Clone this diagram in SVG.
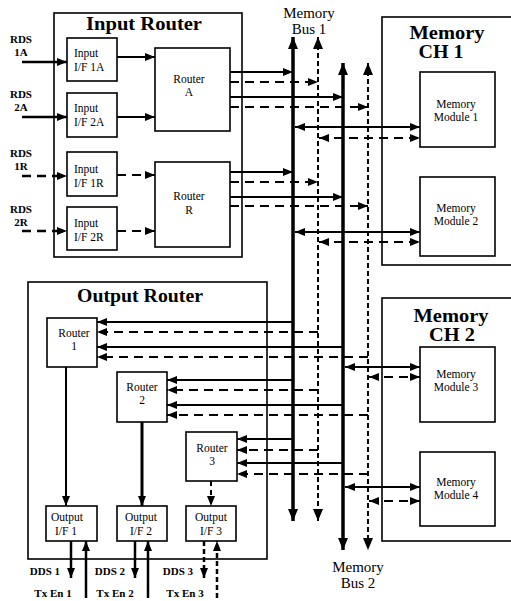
<svg xmlns="http://www.w3.org/2000/svg" width="511" height="601" viewBox="0 0 511 601">
<defs>
<style>
.box{fill:#fff;stroke:#000;stroke-width:1.6}
.t{font-family:"Liberation Serif","Times New Roman",serif;fill:#000;text-anchor:middle}
.l{text-anchor:start}
.s{font-size:11.5px}
.lb{font-size:11px;font-weight:bold}
.ttl{font-size:19px;font-weight:bold}
.bl{font-size:15px}
.c{fill:none;stroke:#000;stroke-width:2}
.d{stroke-dasharray:9 6}
.bus{fill:none;stroke:#000;stroke-width:3.5}
.busd{fill:none;stroke:#000;stroke-width:2;stroke-dasharray:5 3}
</style>
<marker id="ah" viewBox="0 0 10 8" refX="10" refY="4" markerWidth="10" markerHeight="8" markerUnits="userSpaceOnUse" orient="auto-start-reverse"><path d="M0,0 L10,4 L0,8 z" fill="#000"/></marker>
<marker id="bh" viewBox="0 0 12 10" refX="12" refY="5" markerWidth="12" markerHeight="10" markerUnits="userSpaceOnUse" orient="auto-start-reverse"><path d="M0,0 L12,5 L0,10 z" fill="#000"/></marker>
</defs>
<rect width="511" height="601" fill="#fff"/>

<g id="input-router">
<rect class="box" x="54" y="13" width="188" height="244"/>
<text class="t ttl" x="144" y="30" textLength="116" lengthAdjust="spacingAndGlyphs">Input Router</text>
</g>
<g id="input-if-1a"><rect class="box" x="67" y="38" width="50" height="43"/><text class="t s l" x="74" y="57">Input</text><text class="t s l" x="74" y="71">I/F 1A</text></g>
<g id="input-if-2a"><rect class="box" x="67" y="93" width="50" height="44"/><text class="t s l" x="74" y="112">Input</text><text class="t s l" x="74" y="126">I/F 2A</text></g>
<g id="input-if-1r"><rect class="box" x="67" y="152" width="50" height="44"/><text class="t s l" x="74" y="173">Input</text><text class="t s l" x="74" y="187">I/F 1R</text></g>
<g id="input-if-2r"><rect class="box" x="67" y="207" width="50" height="43"/><text class="t s l" x="74" y="227">Input</text><text class="t s l" x="74" y="241">I/F 2R</text></g>
<g id="router-a"><rect class="box" x="155" y="48" width="75" height="83"/><text class="t s" x="189" y="83">Router</text><text class="t s" x="189" y="96">A</text></g>
<g id="router-r"><rect class="box" x="155" y="162" width="75" height="85"/><text class="t s" x="189" y="200">Router</text><text class="t s" x="189" y="214">R</text></g>

<g id="rds-labels">
<text class="t lb" x="21" y="43">RDS</text><text class="t lb" x="21" y="56">1A</text>
<text class="t lb" x="21" y="98">RDS</text><text class="t lb" x="21" y="111">2A</text>
<text class="t lb" x="21" y="157">RDS</text><text class="t lb" x="21" y="170">1R</text>
<text class="t lb" x="21" y="213">RDS</text><text class="t lb" x="21" y="226">2R</text>
</g>

<g id="memory-ch1">
<rect class="box" x="382" y="17" width="135" height="248"/>
<text class="t ttl" x="447" y="39" textLength="75" lengthAdjust="spacingAndGlyphs">Memory</text><text class="t ttl" x="441" y="58" textLength="45" lengthAdjust="spacingAndGlyphs">CH 1</text>
</g>
<g id="memory-module-1"><rect class="box" x="420" y="72" width="75" height="75"/><text class="t s" x="456" y="108">Memory</text><text class="t s" x="456" y="121">Module 1</text></g>
<g id="memory-module-2"><rect class="box" x="420" y="177" width="75" height="79"/><text class="t s" x="456" y="212">Memory</text><text class="t s" x="456" y="225">Module 2</text></g>

<g id="memory-ch2">
<rect class="box" x="382" y="298" width="135" height="243"/>
<text class="t ttl" x="451" y="322" textLength="75" lengthAdjust="spacingAndGlyphs">Memory</text><text class="t ttl" x="452" y="341" textLength="46" lengthAdjust="spacingAndGlyphs">CH 2</text>
</g>
<g id="memory-module-3"><rect class="box" x="420" y="347" width="75" height="75"/><text class="t s" x="456" y="378">Memory</text><text class="t s" x="456" y="391">Module 3</text></g>
<g id="memory-module-4"><rect class="box" x="420" y="452" width="75" height="74"/><text class="t s" x="456" y="486">Memory</text><text class="t s" x="456" y="499">Module 4</text></g>

<g id="output-router">
<rect class="box" x="28" y="282" width="239" height="277"/>
<text class="t ttl" x="140" y="302" textLength="126" lengthAdjust="spacingAndGlyphs">Output Router</text>
</g>
<g id="router-1"><rect class="box" x="47" y="318" width="50" height="49"/><text class="t s" x="74" y="337">Router</text><text class="t s" x="74" y="350">1</text></g>
<g id="router-2"><rect class="box" x="117" y="372" width="50" height="50"/><text class="t s" x="142" y="391">Router</text><text class="t s" x="142" y="404">2</text></g>
<g id="router-3"><rect class="box" x="186" y="432" width="51" height="49"/><text class="t s" x="212" y="452">Router</text><text class="t s" x="212" y="465">3</text></g>
<g id="output-if-1"><rect class="box" x="46" y="506" width="51" height="35"/><text class="t s" x="67" y="521">Output</text><text class="t s" x="66" y="535">I/F 1</text></g>
<g id="output-if-2"><rect class="box" x="117" y="506" width="50" height="35"/><text class="t s" x="141" y="521">Output</text><text class="t s" x="141" y="535">I/F 2</text></g>
<g id="output-if-3"><rect class="box" x="186" y="506" width="50" height="35"/><text class="t s" x="211" y="521">Output</text><text class="t s" x="211" y="535">I/F 3</text></g>

<g id="bus-labels">
<text class="t bl" x="309" y="18">Memory</text><text class="t bl" x="309" y="34">Bus 1</text>
<text class="t bl" x="358" y="572">Memory</text><text class="t bl" x="358" y="588">Bus 2</text>
</g>
<g id="io-labels">
<text class="t lb" x="45" y="575">DDS 1</text><text class="t lb" x="110" y="575">DDS 2</text><text class="t lb" x="178" y="575">DDS 3</text>
<text class="t lb" x="53" y="597">Tx En 1</text><text class="t lb" x="115" y="597">Tx En 2</text><text class="t lb" x="185" y="597">Tx En 3</text>
</g>

<g id="connectors">
<path class="bus" d="M293,37 V521" marker-start="url(#bh)" marker-end="url(#bh)"/>
<path class="busd" d="M318,37 V521" marker-start="url(#bh)" marker-end="url(#bh)"/>
<path class="bus" d="M343,63 V550" marker-start="url(#bh)" marker-end="url(#bh)"/>
<path class="busd" d="M368,63 V550" marker-start="url(#bh)" marker-end="url(#bh)"/>
<path class="c" style="stroke-width:2.5" d="M22,62 H67" marker-end="url(#ah)"/>
<path class="c" style="stroke-width:2.5" d="M22,117 H67" marker-end="url(#ah)"/>
<path class="c d" style="stroke-width:2.5" d="M22,176 H67" marker-end="url(#ah)"/>
<path class="c d" style="stroke-width:2.5" d="M22,231 H67" marker-end="url(#ah)"/>
<path class="c" d="M117,57 H155" marker-end="url(#ah)"/>
<path class="c" d="M117,117 H155" marker-end="url(#ah)"/>
<path class="c d" d="M117,175 H155" marker-end="url(#ah)"/>
<path class="c d" d="M117,231 H155" marker-end="url(#ah)"/>
<path class="c" d="M230,72 H293" marker-end="url(#ah)"/>
<path class="c d" d="M230,82 H318" marker-end="url(#ah)"/>
<path class="c" d="M230,97 H343" marker-end="url(#ah)"/>
<path class="c d" d="M230,107 H368" marker-end="url(#ah)"/>
<path class="c" d="M230,172 H293" marker-end="url(#ah)"/>
<path class="c d" d="M230,182 H318" marker-end="url(#ah)"/>
<path class="c" d="M230,197 H343" marker-end="url(#ah)"/>
<path class="c d" d="M230,206 H368" marker-end="url(#ah)"/>
<path class="c" d="M295,127 H420" marker-start="url(#ah)" marker-end="url(#ah)"/>
<path class="c d" d="M319,138 H420" marker-start="url(#ah)" marker-end="url(#ah)"/>
<path class="c" d="M295,232 H420" marker-start="url(#ah)" marker-end="url(#ah)"/>
<path class="c d" d="M319,242 H420" marker-start="url(#ah)" marker-end="url(#ah)"/>
<path class="c" d="M345,367 H420" marker-start="url(#ah)" marker-end="url(#ah)"/>
<path class="c d" d="M369,377 H420" marker-start="url(#ah)" marker-end="url(#ah)"/>
<path class="c" d="M345,487 H420" marker-start="url(#ah)" marker-end="url(#ah)"/>
<path class="c d" d="M369,501 H420" marker-start="url(#ah)" marker-end="url(#ah)"/>
<path class="c" d="M293,322 H97" marker-end="url(#ah)"/>
<path class="c d" d="M318,332 H97" marker-end="url(#ah)"/>
<path class="c" d="M343,347 H97" marker-end="url(#ah)"/>
<path class="c d" d="M368,357 H97" marker-end="url(#ah)"/>
<path class="c" d="M293,380 H167" marker-end="url(#ah)"/>
<path class="c d" d="M318,390 H167" marker-end="url(#ah)"/>
<path class="c" d="M343,405 H167" marker-end="url(#ah)"/>
<path class="c d" d="M368,415 H167" marker-end="url(#ah)"/>
<path class="c" d="M293,439 H237" marker-end="url(#ah)"/>
<path class="c d" d="M318,450 H237" marker-end="url(#ah)"/>
<path class="c" d="M343,463 H237" marker-end="url(#ah)"/>
<path class="c d" d="M368,474 H237" marker-end="url(#ah)"/>
<path class="c" d="M66,367 V506" marker-end="url(#ah)"/>
<path class="c" style="stroke-width:3" d="M142,422 V506" marker-end="url(#ah)"/>
<path class="c d" style="stroke-dasharray:5 4" d="M211,481 V506" marker-end="url(#ah)"/>
<path class="c" style="stroke-width:2.5" d="M71,541 V578" marker-end="url(#ah)"/>
<path class="c" style="stroke-width:2.5" d="M86,598 V541" marker-end="url(#ah)"/>
<path class="c" style="stroke-width:2.5" d="M135,541 V578" marker-end="url(#ah)"/>
<path class="c" style="stroke-width:2.5" d="M148,598 V541" marker-end="url(#ah)"/>
<path class="c" style="stroke-width:2.5;stroke-dasharray:5 3" d="M204,541 V578" marker-end="url(#ah)"/>
<path class="c" style="stroke-width:2.5;stroke-dasharray:5 3" d="M217,598 V541" marker-end="url(#ah)"/>
</g>
</svg>
